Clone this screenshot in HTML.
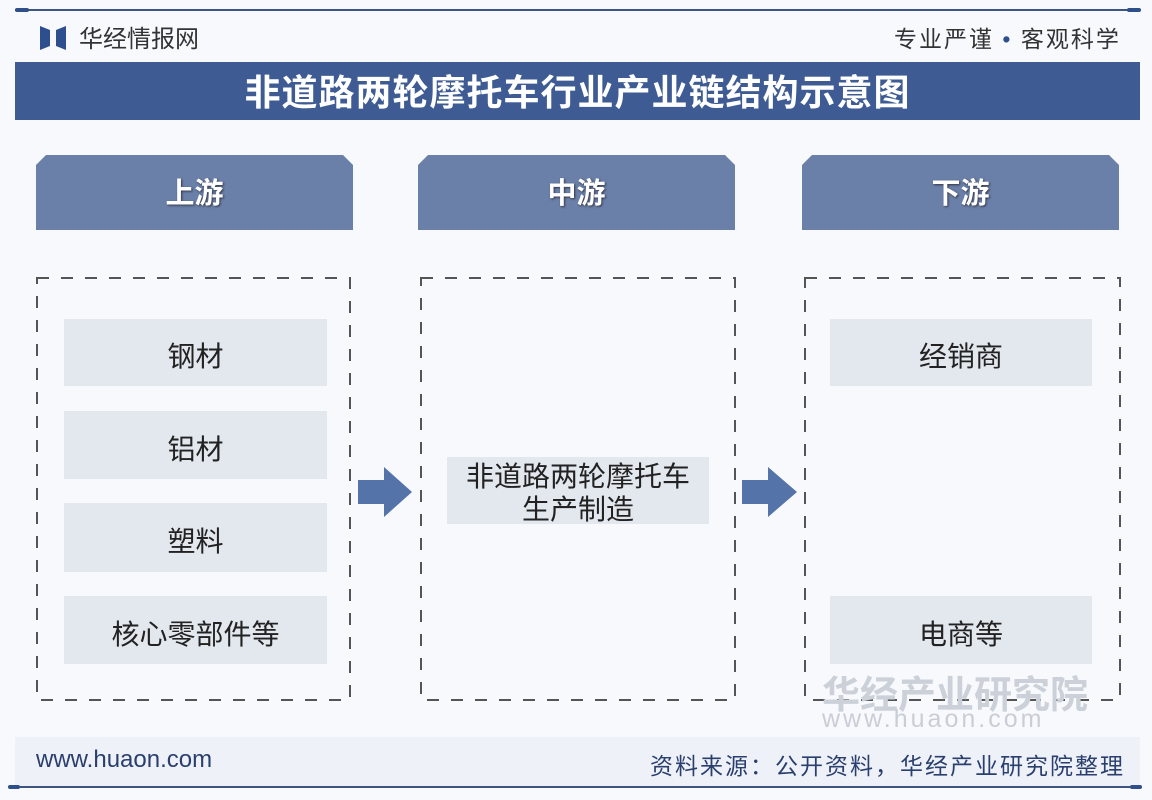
<!DOCTYPE html>
<html><head><meta charset="utf-8"><style>
html,body{margin:0;padding:0;width:1152px;height:800px;overflow:hidden;background:#f7f9fc;font-family:"Liberation Sans","Noto Sans CJK SC",sans-serif;}
.a{position:absolute;}
.hd{position:absolute;top:155px;height:75px;width:317px;background:#6a80a8;color:#fff;font-weight:bold;font-size:29px;text-align:center;line-height:78px;clip-path:polygon(10px 0,calc(100% - 10px) 0,100% 10px,100% 100%,0 100%,0 10px);text-shadow:1px 1px 2px #334;}
.it{position:absolute;background:#e3e8ef;font-size:28px;color:#222;text-align:center;display:flex;align-items:center;justify-content:center;line-height:33px;padding-top:8px;box-sizing:border-box;}
</style></head><body>
<div class="a" style="left:15px;top:9px;width:1125px;height:2px;background:#3d5580"></div>
<div class="a" style="left:15px;top:8px;width:14px;height:4px;background:#2f4f8a;border-radius:2px"></div>
<div class="a" style="left:1127px;top:8px;width:14px;height:4px;background:#2f4f8a;border-radius:2px"></div>
<svg class="a" style="left:40px;top:26px" width="26" height="24"><polygon points="0,0 10,4 10,20 0,24" fill="#2d4f8e"/><polygon points="26,0 16,4 16,20 26,24" fill="#2d4f8e"/></svg>
<div class="a" style="left:79px;top:19px;font-size:24px;color:#333">华经情报网</div>
<div class="a" style="left:894px;top:20px;font-size:23px;color:#333;letter-spacing:2px">专业严谨 <span style="color:#2d4f8e">•</span> 客观科学</div>
<div class="a" style="left:15px;top:62px;width:1125px;height:58px;background:#3e5c93;color:#fff;font-size:36px;font-weight:bold;text-align:center;line-height:62px;letter-spacing:1px">非道路两轮摩托车行业产业链结构示意图</div>
<div class="hd" style="left:36px">上游</div>
<div class="hd" style="left:418px">中游</div>
<div class="hd" style="left:802px">下游</div>
<svg class="a" style="left:0;top:0" width="1152" height="800">
<g fill="none" stroke="#555" stroke-width="2" stroke-dasharray="12,12">
<rect x="37" y="278" width="313" height="422"/>
<rect x="421" y="278" width="314" height="422"/>
<rect x="805" y="278" width="315" height="422"/>
</g>
<polygon points="358,480 384,480 384,467 412,492 384,517 384,504 358,504" fill="#5473a8"/>
<polygon points="742,480 768,480 768,467 797,492 768,517 768,504 742,504" fill="#5473a8"/>
</svg>
<div class="it" style="left:64px;top:319px;width:263px;height:67px">钢材</div>
<div class="it" style="left:64px;top:411px;width:263px;height:68px">铝材</div>
<div class="it" style="left:64px;top:503px;width:263px;height:69px">塑料</div>
<div class="it" style="left:64px;top:596px;width:263px;height:68px">核心零部件等</div>
<div class="it" style="left:447px;top:457px;width:262px;height:67px;padding-top:4px">非道路两轮摩托车<br>生产制造</div>
<div class="it" style="left:830px;top:319px;width:262px;height:67px">经销商</div>
<div class="it" style="left:830px;top:596px;width:262px;height:68px">电商等</div>
<div class="a" style="left:822px;top:664px;font-size:38px;color:#ccd1d9;font-weight:bold">华经产业研究院</div>
<div class="a" style="left:822px;top:705px;font-size:25px;color:#c9ced6;letter-spacing:3px">www.huaon.com</div>
<div class="a" style="left:15px;top:737px;width:1125px;height:49px;background:#eef2f8"></div>
<div class="a" style="left:36px;top:746px;font-size:24px;color:#2a3f6e">www.huaon.com</div>
<div class="a" style="left:650px;top:747px;font-size:23px;color:#2a3f6e;letter-spacing:2px">资料来源：公开资料，华经产业研究院整理</div>
<div class="a" style="left:15px;top:786px;width:1125px;height:2px;background:#3d5580"></div>
<div class="a" style="left:8px;top:785px;width:12px;height:4px;background:#2f4f8a;border-radius:2px"></div>
<div class="a" style="left:1130px;top:785px;width:12px;height:4px;background:#2f4f8a;border-radius:2px"></div>
</body></html>
